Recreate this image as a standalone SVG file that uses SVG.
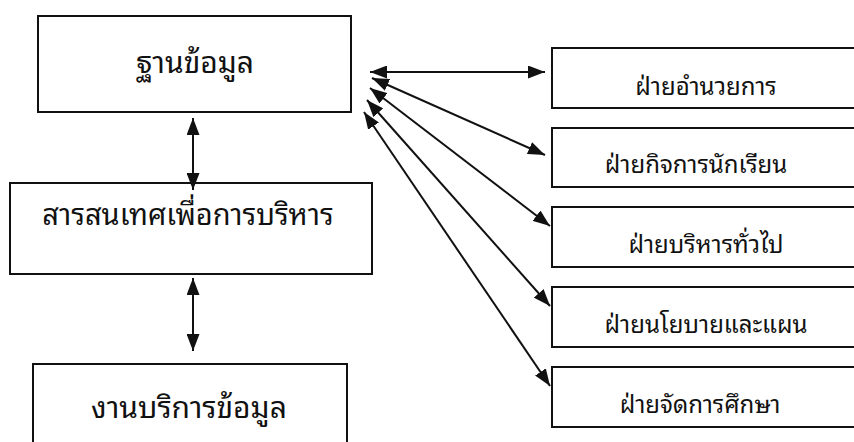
<svg xmlns="http://www.w3.org/2000/svg" width="854" height="442" viewBox="0 0 854 442">
<style>
.box{fill:#fff;stroke:#111;stroke-width:2}
.t{font-family:"Noto Sans Thai Looped","Noto Serif Thai","Noto Sans Thai","Noto Sans","DejaVu Sans",sans-serif;fill:#111;text-anchor:middle}
.big{font-size:30px}
.mid{font-size:29px}
.sm{font-size:24px}
.c{stroke:#111;stroke-width:2;fill:none;marker-start:url(#ah);marker-end:url(#ah)}
</style>
<defs>
<marker id="ah" viewBox="0 0 10 10" refX="10" refY="5" markerWidth="17" markerHeight="13" markerUnits="userSpaceOnUse" orient="auto-start-reverse" preserveAspectRatio="none">
<path d="M0,0 L10,5 L0,10 Z" fill="#111"/>
</marker>
</defs>
<rect width="854" height="442" fill="#fff"/>
<g id="n-db"><rect class="box" x="38" y="16" width="313" height="96"/><text class="t big" x="195" y="73">ฐานข้อมูล</text></g>
<g id="n-mis"><rect class="box" x="10" y="183" width="362" height="91"/><text class="t mid" x="188" y="225">สารสนเทศเพื่อการบริหาร</text></g>
<g id="n-svc"><rect class="box" x="33" y="364" width="314" height="90"/><text class="t big" x="189" y="418">งานบริการข้อมูล</text></g>
<g id="n-a"><rect class="box" x="552" y="48" width="310" height="60"/><text class="t sm" x="706" y="95">ฝ่ายอำนวยการ</text></g>
<g id="n-b"><rect class="box" x="552" y="128" width="310" height="59"/><text class="t sm" x="696" y="173">ฝ่ายกิจการนักเรียน</text></g>
<g id="n-c"><rect class="box" x="552" y="207" width="310" height="60"/><text class="t sm" x="706" y="253">ฝ่ายบริหารทั่วไป</text></g>
<g id="n-d"><rect class="box" x="552" y="287" width="310" height="60"/><text class="t sm" x="706" y="333">ฝ่ายนโยบายและแผน</text></g>
<g id="n-e"><rect class="box" x="552" y="367" width="310" height="60"/><text class="t sm" x="700" y="413">ฝ่ายจัดการศึกษา</text></g>
<g id="connectors">
<line class="c" x1="193" y1="118" x2="193" y2="190"/>
<line class="c" x1="193" y1="278" x2="193" y2="351"/>
<line class="c" x1="370" y1="72" x2="545" y2="72"/>
<line class="c" x1="372" y1="78" x2="545" y2="155"/>
<line class="c" x1="370" y1="88" x2="550" y2="226"/>
<line class="c" x1="367" y1="100" x2="550" y2="306"/>
<line class="c" x1="364" y1="112" x2="550" y2="386"/>
</g>
</svg>
